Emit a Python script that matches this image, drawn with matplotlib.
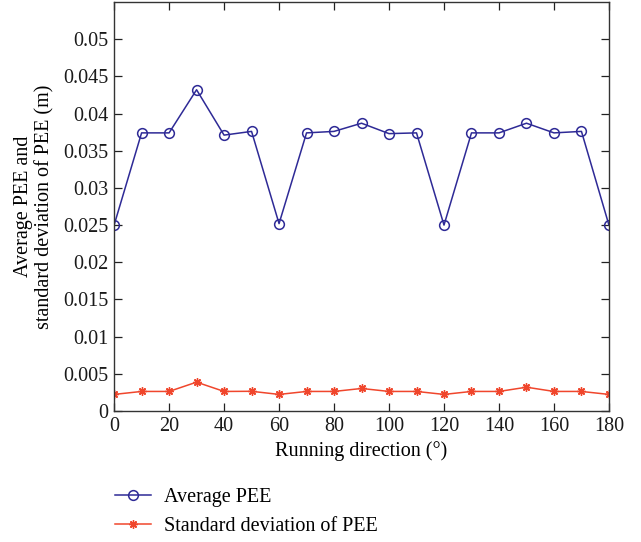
import matplotlib
matplotlib.use("Agg")
import matplotlib.pyplot as plt
from matplotlib.ticker import MultipleLocator

plt.rcParams['font.family'] = ['Liberation Serif', 'DejaVu Serif']

directions = [0, 10, 20, 30, 40, 50, 60, 70, 80, 90, 100, 110, 120, 130, 140, 150, 160, 170, 180]
avg_pee = [0.0250, 0.0374, 0.0374, 0.0432, 0.0371, 0.0376, 0.0252, 0.0374, 0.0376, 0.0387,
           0.0373, 0.0374, 0.0250, 0.0374, 0.0374, 0.0387, 0.0374, 0.0376, 0.0250]
std_pee = [0.00223, 0.00263, 0.00263, 0.00388, 0.00263, 0.00265, 0.00223, 0.00263, 0.00263, 0.00303,
           0.00263, 0.00263, 0.00223, 0.00263, 0.00263, 0.00320, 0.00263, 0.00263, 0.00223]
yticks = [0, 0.005, 0.01, 0.015, 0.02, 0.025, 0.03, 0.035, 0.04, 0.045, 0.05]
ytick_labels = ['0', '0.005', '0.01', '0.015', '0.02', '0.025', '0.03', '0.035', '0.04', '0.045', '0.05']

fig = plt.figure(figsize=(6.41, 5.42), dpi=100)
ax = fig.add_axes([0.178, 0.2417, 0.772, 0.7546])

blue = '#2E2A96'
red = '#F0462C'
ax.plot(directions, avg_pee, color=blue, lw=1.1, marker='o', ms=7, mfc='none', mec=blue, mew=1.1,
        label='Average PEE')
ax.plot(directions, std_pee, color=red, lw=1.1, marker=(8, 2, 0), ms=6, mfc=red, mec=red, mew=1.0,
        label='Standard deviation of PEE')

ax.set_xlim(0, 180)
ax.set_ylim(0, 0.055)
ax.xaxis.set_major_locator(MultipleLocator(20))
ax.set_yticks(yticks)
ax.set_yticklabels(ytick_labels)
ax.tick_params(direction='in', top=True, right=True, length=6, width=0.9, labelsize=14.5,
               colors='#222222', labelcolor='#1a1a1a', pad=4)
for s in ax.spines.values():
    s.set_linewidth(1.0)
    s.set_color('#333333')

ax.set_xlabel('Running direction (°)', fontsize=14.5, labelpad=4)
ax.set_ylabel('Average PEE and\nstandard deviation of PEE (m)', fontsize=14.5, labelpad=6,
              linespacing=1.15)

leg = fig.legend(loc='upper left', bbox_to_anchor=(0.179, 0.0996), frameon=False, fontsize=14.5,
                 handlelength=1.8, handletextpad=0.67, labelspacing=0.5, borderaxespad=0,
                 borderpad=0)

fig.savefig('out.png', dpi=100)
